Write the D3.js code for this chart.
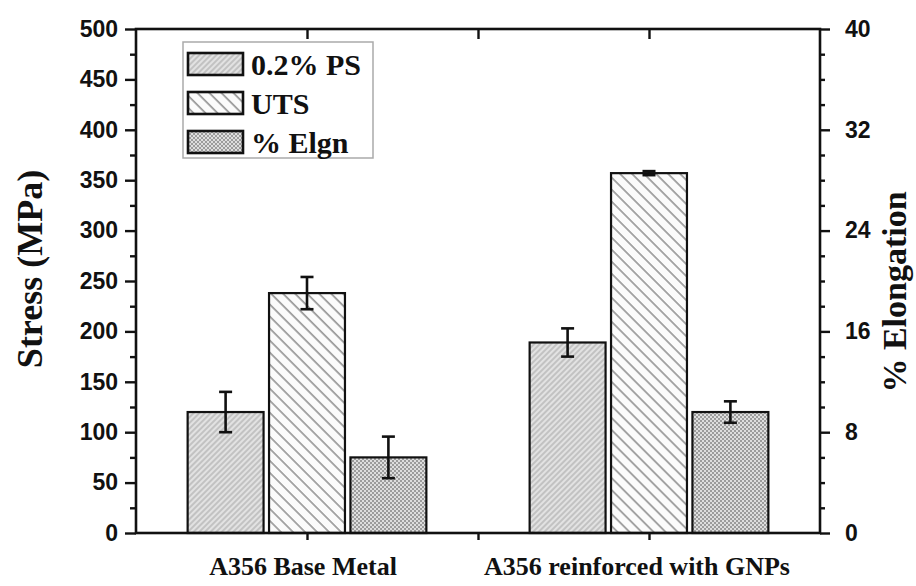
<!DOCTYPE html>
<html>
<head>
<meta charset="utf-8">
<script src="https://cdnjs.cloudflare.com/ajax/libs/d3/7.8.5/d3.min.js"></script>
<style>
  body { margin: 0; background: #fff; }
  .tick_lbl { font-family: "Liberation Sans", Arial, sans-serif; font-weight: bold; font-size: 23px; }
  .serif_lbl { font-family: "Liberation Serif", "Times New Roman", serif; font-weight: bold; }
</style>
</head>
<body>
<div id="viz"></div>
<script>
// ---- data ----
let categories = ["A356 Base Metal", "A356 reinforced with GNPs"];
let series_names = ["0.2% PS", "UTS", "% Elgn"];

let ps_values = [120, 189];
let ps_err = [20, 14];
let uts_values = [238, 357];
let uts_err = [16, 2];
let elgn_values = [6.0, 9.6];     // % elongation, right axis
let elgn_err = [1.65, 0.85];

let stress_ticks = [0, 50, 100, 150, 200, 250, 300, 350, 400, 450, 500];
let stress_minor = [25, 75, 125, 175, 225, 275, 325, 375, 425, 475];
let elgn_ticks = [0, 8, 16, 24, 32, 40];
let elgn_minor = [2, 4, 6, 10, 12, 14, 18, 20, 22, 26, 28, 30, 34, 36, 38];
let x_ticks = [1, 1.5, 2];

let width_svg = 916, height_svg = 586;
let plot = {left: 136, right: 820, top: 29, bottom: 533};

let svg_container = d3.select("#viz")
    .append("svg")
    .attr("width", width_svg)
    .attr("height", height_svg);

// ---- patterns for the bar fills ----
let defs = svg_container.append("defs");

let p_ps = defs.append("pattern")
    .attr("id", "pat_ps")
    .attr("patternUnits", "userSpaceOnUse")
    .attr("width", 4).attr("height", 4)
    .attr("patternTransform", "rotate(45)");
p_ps.append("rect").attr("width", 4).attr("height", 4).attr("fill", "#e2e2e2");
p_ps.append("line").attr("x1", 1).attr("y1", 0).attr("x2", 1).attr("y2", 4)
    .attr("stroke", "#a8a8a8").attr("stroke-width", 1.1);

let p_uts = defs.append("pattern")
    .attr("id", "pat_uts")
    .attr("patternUnits", "userSpaceOnUse")
    .attr("width", 8.5).attr("height", 8.5)
    .attr("patternTransform", "rotate(-45)");
p_uts.append("rect").attr("width", 8.5).attr("height", 8.5).attr("fill", "#fbfbfb");
p_uts.append("line").attr("x1", 1).attr("y1", 0).attr("x2", 1).attr("y2", 8.5)
    .attr("stroke", "#8c8c8c").attr("stroke-width", 1.5);

let p_el = defs.append("pattern")
    .attr("id", "pat_el")
    .attr("patternUnits", "userSpaceOnUse")
    .attr("width", 4).attr("height", 4);
p_el.append("rect").attr("width", 4).attr("height", 4).attr("fill", "#dedede");
p_el.append("rect").attr("width", 2).attr("height", 2).attr("fill", "#9c9c9c");
p_el.append("rect").attr("x", 2).attr("y", 2).attr("width", 2).attr("height", 2).attr("fill", "#9c9c9c");

let fills = ["url(#pat_ps)", "url(#pat_uts)", "url(#pat_el)"];

// ---- scales ----
let x_scale = d3.scaleLinear().domain([0.5, 2.5]).range([plot.left, plot.right]);
let y_stress = d3.scaleLinear().domain([0, 500]).range([plot.bottom, plot.top]);
let y_elgn = d3.scaleLinear().domain([0, 40]).range([plot.bottom, plot.top]);

let bar_w = 0.222, bar_step = 0.238;

// flatten the series into one list of bars
let bar_data = [];
categories.forEach(function(c, i){
    bar_data.push({s: 0, x: i + 1 - bar_step, v: ps_values[i], e: ps_err[i], y: y_stress});
    bar_data.push({s: 1, x: i + 1, v: uts_values[i], e: uts_err[i], y: y_stress});
    bar_data.push({s: 2, x: i + 1 + bar_step, v: elgn_values[i], e: elgn_err[i], y: y_elgn});
});

let bw_px = x_scale(bar_w) - x_scale(0);

svg_container.selectAll(".bar")
    .data(bar_data)
    .enter()
    .append("rect")
    .attr("class", "bar")
    .attr("x", function(d){ return x_scale(d.x) - bw_px/2; })
    .attr("y", function(d){ return d.y(d.v); })
    .attr("width", bw_px)
    .attr("height", function(d){ return plot.bottom - d.y(d.v); })
    .attr("fill", function(d){ return fills[d.s]; })
    .attr("stroke", "#111")
    .attr("stroke-width", 2.2);

// error bars
let err_g = svg_container.selectAll(".err")
    .data(bar_data)
    .enter()
    .append("g")
    .attr("class", "err")
    .attr("stroke", "#111")
    .attr("stroke-width", 2.6);

err_g.append("line")
    .attr("x1", function(d){ return x_scale(d.x); })
    .attr("x2", function(d){ return x_scale(d.x); })
    .attr("y1", function(d){ return d.y(d.v + d.e); })
    .attr("y2", function(d){ return d.y(d.v - d.e); });

[1, -1].forEach(function(sg){
    err_g.append("line")
        .attr("x1", function(d){ return x_scale(d.x) - 6.5; })
        .attr("x2", function(d){ return x_scale(d.x) + 6.5; })
        .attr("y1", function(d){ return d.y(d.v + sg*d.e); })
        .attr("y2", function(d){ return d.y(d.v + sg*d.e); });
});

// ---- axes ----
function style_axis(g){
    g.select(".domain").remove();
    g.selectAll(".tick line").attr("stroke", "#111").attr("stroke-width", 2.4);
}

let ax_left = svg_container.append("g")
    .attr("transform", "translate(" + plot.left + ",0)")
    .call(d3.axisLeft(y_stress).tickValues(stress_ticks).tickSize(11).tickPadding(7));
style_axis(ax_left);
ax_left.selectAll("text").attr("class", "tick_lbl").attr("fill", "#111");

svg_container.append("g")
    .attr("transform", "translate(" + plot.left + ",0)")
    .call(d3.axisLeft(y_stress).tickValues(stress_minor).tickSize(6).tickFormat(""))
    .call(style_axis);

let ax_right = svg_container.append("g")
    .attr("transform", "translate(" + plot.right + ",0)")
    .call(d3.axisRight(y_elgn).tickValues(elgn_ticks).tickSize(10).tickPadding(15));
style_axis(ax_right);
ax_right.selectAll("text").attr("class", "tick_lbl").attr("fill", "#111");

svg_container.append("g")
    .attr("transform", "translate(" + plot.right + ",0)")
    .call(d3.axisRight(y_elgn).tickValues(elgn_minor).tickSize(5).tickFormat(""))
    .call(style_axis);

let ax_bottom = svg_container.append("g")
    .attr("transform", "translate(0," + plot.bottom + ")")
    .call(d3.axisBottom(x_scale).tickValues(x_ticks).tickSize(7).tickFormat(""));
style_axis(ax_bottom);

let ax_top = svg_container.append("g")
    .attr("transform", "translate(0," + plot.top + ")")
    .call(d3.axisBottom(x_scale).tickValues(x_ticks).tickSize(10).tickFormat(""));
style_axis(ax_top);

// frame
svg_container.append("rect")
    .attr("x", plot.left).attr("y", plot.top)
    .attr("width", plot.right - plot.left)
    .attr("height", plot.bottom - plot.top)
    .attr("fill", "none")
    .attr("stroke", "#111")
    .attr("stroke-width", 2.6);

// category labels
svg_container.selectAll(".cat_lbl")
    .data(categories)
    .enter()
    .append("text")
    .attr("class", "serif_lbl")
    .attr("x", function(d, i){ return x_scale(i + 1) - (i === 0 ? 4 : 12); })
    .attr("y", 575)
    .attr("text-anchor", "middle")
    .style("font-size", "26px")
    .attr("fill", "#111")
    .text(function(d){ return d; });

// axis titles
svg_container.append("text")
    .attr("class", "serif_lbl")
    .attr("transform", "translate(42,269) rotate(-90)")
    .attr("text-anchor", "middle")
    .style("font-size", "36px")
    .attr("fill", "#111")
    .text("Stress (MPa)");

svg_container.append("text")
    .attr("class", "serif_lbl")
    .attr("transform", "translate(906,292) rotate(-90)")
    .attr("text-anchor", "middle")
    .style("font-size", "34px")
    .attr("fill", "#111")
    .text("% Elongation");

// ---- legend ----
let legend = svg_container.append("g").attr("transform", "translate(183,42)");
legend.append("rect")
    .attr("width", 190).attr("height", 116)
    .attr("fill", "#fff")
    .attr("stroke", "#aaa")
    .attr("stroke-width", 1.5);

let leg_item = legend.selectAll(".leg")
    .data(series_names)
    .enter()
    .append("g")
    .attr("transform", function(d, i){ return "translate(0," + (11 + i*39) + ")"; });

leg_item.append("rect")
    .attr("x", 5).attr("width", 55).attr("height", 22)
    .attr("fill", function(d, i){ return fills[i]; })
    .attr("stroke", "#111")
    .attr("stroke-width", 2.6);

leg_item.append("text")
    .attr("class", "serif_lbl")
    .attr("x", 68).attr("y", 22)
    .style("font-size", "30px")
    .attr("fill", "#111")
    .text(function(d){ return d; });
</script>
</body>
</html>
